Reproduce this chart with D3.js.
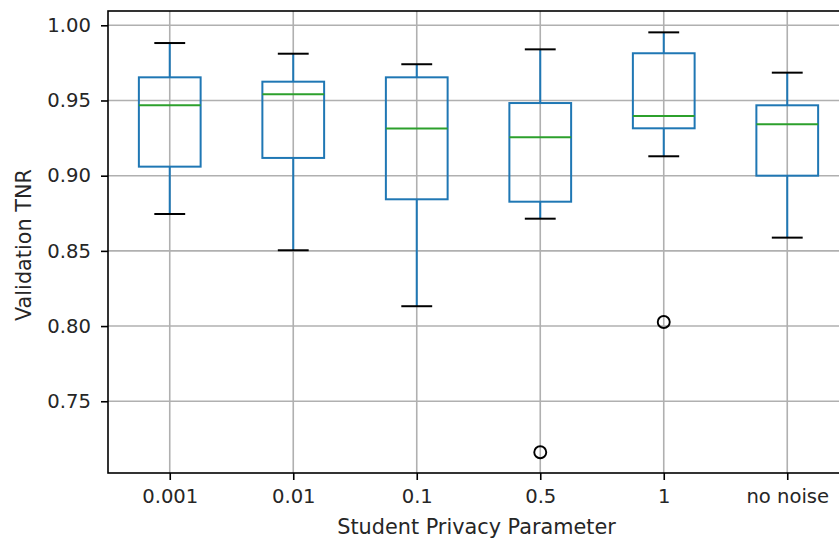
<!DOCTYPE html>
<html>
<head>
<meta charset="utf-8">
<script src="https://cdn.jsdelivr.net/npm/d3@7"></script>
<style>
  html, body { margin: 0; padding: 0; background: #fff; }
  svg { display: block; }
  text { font-family: "DejaVu Sans", sans-serif; }
</style>
</head>
<body>
<svg id="chart" width="839" height="542"></svg>
<script>
const categories = ["0.001", "0.01", "0.1", "0.5", "1", "no noise"];
const whiskerLow  = [0.8745, 0.8504, 0.8132, 0.8714, 0.9129, 0.8588];
const q1          = [0.9060, 0.9118, 0.8843, 0.8827, 0.9315, 0.9000];
const median      = [0.9468, 0.9541, 0.9313, 0.9255, 0.9397, 0.9342];
const q3          = [0.9654, 0.9625, 0.9654, 0.9483, 0.9814, 0.9468];
const whiskerHigh = [0.9882, 0.9811, 0.9741, 0.9840, 0.9953, 0.9685];
const outliers    = [[], [], [], [0.7161], [0.8027], []];
const yTicks = [0.75, 0.80, 0.85, 0.90, 0.95, 1.00];
const xLabel = "Student Privacy Parameter";
const yLabel = "Validation TNR";

(function () {
const svg = d3.select("#chart");
const mLeft = 108, mTop = 11, mBottom = 473, step = 123.5;
const mRight = mLeft + categories.length * step;

const x = d3.scaleLinear().domain([0.5, categories.length + 0.5]).range([mLeft, mRight]);
const y = d3.scaleLinear().domain([0.7023, 1.0095]).range([mBottom, mTop]);

const grid = "#b0b0b0";
const gw = 1.6;
const textCol = "#262626";

// grid lines
svg.append("g").selectAll("line").data(yTicks).join("line")
  .attr("x1", mLeft).attr("x2", mRight)
  .attr("y1", d => y(d)).attr("y2", d => y(d))
  .attr("stroke", grid).attr("stroke-width", gw);
svg.append("g").selectAll("line").data(categories).join("line")
  .attr("x1", (d, i) => x(i + 1)).attr("x2", (d, i) => x(i + 1))
  .attr("y1", mTop).attr("y2", mBottom)
  .attr("stroke", grid).attr("stroke-width", gw);

// axes
const yAxis = d3.axisLeft(y).tickValues(yTicks).tickFormat(d3.format(".2f")).tickSize(7).tickPadding(10);
const gy = svg.append("g").attr("transform", `translate(${mLeft},0)`).call(yAxis);
const xAxis = d3.axisBottom(x).tickValues(d3.range(1, categories.length + 1))
  .tickFormat(i => categories[i - 1]).tickSize(7).tickPadding(9);
const gx = svg.append("g").attr("transform", `translate(0,${mBottom})`).call(xAxis);
[gx, gy].forEach(g => {
  g.select(".domain").remove();
  g.selectAll(".tick line").attr("stroke", "#000").attr("stroke-width", 1.6);
  g.selectAll(".tick text").attr("fill", textCol).style("font-size", "19.6px")
    .style("font-family", "'DejaVu Sans', sans-serif");
});

// boxes
const boxW = step * 0.5, capW = boxW / 2;
const lw = 2;
const blue = "#1f77b4", green = "#2ca02c";
const boxes = svg.append("g");
categories.forEach((c, i) => {
  const cx = x(i + 1);
  const g = boxes.append("g");
  g.append("line").attr("x1", cx).attr("x2", cx).attr("y1", y(q3[i])).attr("y2", y(whiskerHigh[i]))
    .attr("stroke", blue).attr("stroke-width", lw);
  g.append("line").attr("x1", cx).attr("x2", cx).attr("y1", y(q1[i])).attr("y2", y(whiskerLow[i]))
    .attr("stroke", blue).attr("stroke-width", lw);
  g.append("rect").attr("x", cx - boxW / 2).attr("width", boxW)
    .attr("y", y(q3[i])).attr("height", y(q1[i]) - y(q3[i]))
    .attr("fill", "none").attr("stroke", blue).attr("stroke-width", lw);
  g.append("line").attr("x1", cx - boxW / 2).attr("x2", cx + boxW / 2)
    .attr("y1", y(median[i])).attr("y2", y(median[i]))
    .attr("stroke", green).attr("stroke-width", lw);
  [whiskerHigh[i], whiskerLow[i]].forEach(v => {
    g.append("line").attr("x1", cx - capW / 2).attr("x2", cx + capW / 2)
      .attr("y1", y(v)).attr("y2", y(v)).attr("stroke", "#000").attr("stroke-width", lw);
  });
  outliers[i].forEach(v => {
    g.append("circle").attr("cx", cx).attr("cy", y(v)).attr("r", 6)
      .attr("fill", "none").attr("stroke", "#000").attr("stroke-width", 1.9);
  });
});

// spines
svg.append("rect").attr("x", mLeft).attr("y", mTop).attr("width", mRight - mLeft).attr("height", mBottom - mTop)
  .attr("fill", "none").attr("stroke", "#000").attr("stroke-width", 1.6);

// labels
svg.append("text").attr("x", (mLeft + mRight) / 2 - 2).attr("y", 534)
  .attr("text-anchor", "middle").attr("fill", textCol).style("font-size", "20.8px").text(xLabel);
svg.append("text").attr("transform", `translate(31,${(mTop + mBottom) / 2 + 3}) rotate(-90)`)
  .attr("text-anchor", "middle").attr("fill", textCol).style("font-size", "20.8px").text(yLabel);
})();
</script>
</body>
</html>
